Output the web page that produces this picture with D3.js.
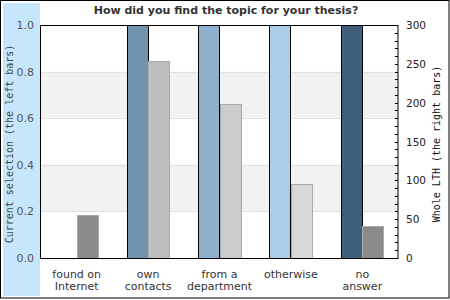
<!DOCTYPE html>
<html><head><meta charset="utf-8">
<script src="https://cdn.jsdelivr.net/npm/d3@7"></script>
<style>html,body{margin:0;padding:0;background:#fff;}svg{display:block;}</style>
</head><body>
<svg id="c" width="450" height="300"></svg>
<script>
const categories = [["found on","Internet"],["own","contacts"],["from a","department"],["otherwise"],["no","answer"]];
const currentSelection = [0, 1.0, 1.0, 1.0, 1.0];
const wholeLTH = [55, 254, 198, 95, 41];
const leftColors = [null, "#7193ae", "#8fb0cc", "#abcde9", "#3f5e7a"];
const rightColors = ["#8a8a8a", "#bebebe", "#cbcbcb", "#d8d8d8", "#8a8a8a"];
const leftTicks = [0, 0.2, 0.4, 0.6, 0.8, 1.0];
const rightTicks = [0, 50, 100, 150, 200, 250, 300];
const title = "How did you find the topic for your thesis?";

const svg = d3.select("#c");
const L = 40, R = 398, T = 25, B = 258;
const keys = categories.map(c => c.join(" "));
const x = d3.scaleBand().domain(keys).range([41, 398]).padding(0);
const yL = d3.scaleLinear().domain([0, 1]).range([B, T]);
const yR = d3.scaleLinear().domain([0, 300]).range([B, T]);

// outer border
svg.append("rect").attr("x",0.5).attr("y",0.5).attr("width",448.5).attr("height",297.5)
  .attr("fill","#fff").attr("stroke","#000");
// light blue panel
svg.append("rect").attr("x",3).attr("y",3).attr("width",37).attr("height",293).attr("fill","#c6e6fb");

// bands
[[0.2,0.4],[0.6,0.8]].forEach(([a,b]) => {
  svg.append("rect").attr("x",L).attr("y",yL(b)).attr("width",R-L).attr("height",yL(a)-yL(b)).attr("fill","#f2f2f2");
});
[0.2,0.4,0.6,0.8].forEach(v => {
  svg.append("line").attr("x1",L).attr("x2",R).attr("y1",Math.round(yL(v))+0.5).attr("y2",Math.round(yL(v))+0.5)
    .attr("stroke","#e0e0e0");
});

const bw = x.bandwidth()*0.3;
const g = svg.append("g");
keys.forEach((k,i) => {
  const cx = x(k) + x.bandwidth()/2;
  if (currentSelection[i] > 0) {
    g.append("rect").attr("x",Math.round(cx-bw)+0.5).attr("y",Math.round(yL(Math.min(1,currentSelection[i])))+0.5)
      .attr("width",Math.round(bw)).attr("height",Math.round(B-yL(Math.min(1,currentSelection[i]))))
      .attr("fill",leftColors[i]).attr("stroke","#000");
  }
  g.append("rect").attr("x",Math.round(cx)+0.5).attr("y",Math.round(yR(wholeLTH[i]))+0.5)
    .attr("width",Math.round(bw)).attr("height",Math.round(B-yR(wholeLTH[i])))
    .attr("fill",rightColors[i]).attr("stroke","#aaa");
});

// plot frame
svg.append("rect").attr("x",L+0.5).attr("y",T+0.5).attr("width",R-L-0.5).attr("height",B-T)
  .attr("fill","none").attr("stroke","#000");

// left tick labels
svg.selectAll(".lt").data(leftTicks).enter().append("text")
  .attr("x",34).attr("y",d=>yL(d)+4).attr("text-anchor","end")
  .attr("font-family","DejaVu Sans").attr("font-size",11).attr("fill","#555")
  .text(d=>d3.format(".1f")(d));

// right axis minor ticks
d3.range(0,301,10).forEach(v => {
  svg.append("line").attr("x1",395).attr("x2",398).attr("y1",Math.round(yR(v))+0.5).attr("y2",Math.round(yR(v))+0.5)
    .attr("stroke","#000");
});
svg.selectAll(".rt").data(rightTicks).enter().append("text")
  .attr("x",406).attr("y",d=>yR(d)+4)
  .attr("font-family","DejaVu Sans").attr("font-size",10.5).attr("fill","#222")
  .text(d=>d);

// category labels
keys.forEach((k,i) => {
  const cx = x(k) + x.bandwidth()/2;
  const t = svg.append("text").attr("text-anchor","middle").attr("font-family","DejaVu Sans")
    .attr("font-size",11).attr("fill","#333");
  categories[i].forEach((line,j) => {
    t.append("tspan").attr("x",cx).attr("y",278+j*12).text(line);
  });
});

// axis titles
svg.append("text").attr("transform","translate(13,144) rotate(-90)").attr("text-anchor","middle")
  .attr("font-family","DejaVu Sans Mono").attr("font-size",10).attr("fill","#444")
  .text("Current selection (the left bars)");
svg.append("text").attr("transform","translate(440,144) rotate(-90)").attr("text-anchor","middle")
  .attr("font-family","DejaVu Sans Mono").attr("font-size",10).attr("fill","#111")
  .text("Whole LTH (the right bars)");

// title
svg.append("text").attr("x",226).attr("y",14).attr("text-anchor","middle")
  .attr("font-family","DejaVu Sans").attr("font-weight","bold").attr("font-size",11).attr("fill","#333")
  .text(title);
</script>
</body></html>
